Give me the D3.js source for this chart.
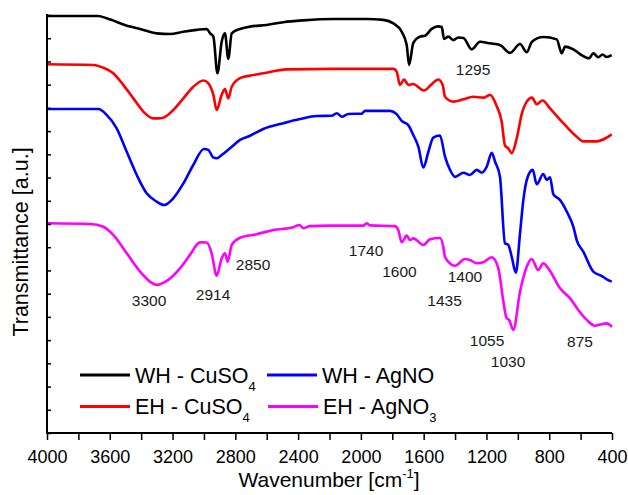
<!DOCTYPE html>
<html><head><meta charset="utf-8">
<script src="https://cdn.jsdelivr.net/npm/d3@7"></script>
<style>body{margin:0;background:#fff}svg{display:block}text{font-family:"Liberation Sans",Arial,sans-serif}</style>
</head><body>
<script>
// wavenumber [cm-1], transmittance [a.u., offset]
const whCuWn = [3998,3673,3620,3471,3407,3301,3216,3131,3046,2982,2961,2940,2914,2887,2866,2845,2823,2770,2707,2600,2494,2367,2176,1963,1857,1793,1740,1708,1693,1666,1623,1591,1549,1509,1485,1470,1443,1411,1379,1347,1294,1241,1177,1114,1050,986,943,910,838,752,720,699,646,604,546,519,487,460,434,402];
const whCuT  = [17.96,17.96,17.86,17.50,17.40,17.21,17.18,17.28,17.36,17.40,17.21,17.07,15.49,16.85,17.21,16.11,17.21,17.40,17.50,17.57,17.69,17.77,17.83,17.83,17.79,17.64,17.28,16.71,15.85,16.80,17.07,17.11,17.40,17.51,17.48,16.97,17.07,16.92,17.03,17.01,16.52,16.85,16.78,16.71,16.37,16.75,16.40,16.85,17.05,16.95,16.35,16.64,16.52,16.32,16.14,16.35,16.18,16.30,16.19,16.27];

const ehCuWn = [3998,3705,3641,3578,3514,3450,3386,3323,3293,3259,3195,3131,3068,3004,2972,2940,2919,2887,2866,2845,2823,2770,2707,2622,2473,2176,1793,1772,1751,1725,1698,1668,1598,1549,1507,1479,1464,1411,1347,1284,1220,1177,1135,1103,1082,1061,1039,1007,975,943,910,880,843,795,710,625,583,497,434,402];
const ehCuT  = [15.88,15.85,15.73,15.49,14.99,14.41,13.84,13.55,13.55,13.58,13.91,14.41,14.91,15.18,15.06,14.56,13.91,14.56,14.81,14.41,14.91,15.28,15.39,15.49,15.66,15.68,15.68,15.56,14.99,15.22,14.99,15.03,14.75,15.02,15.22,14.99,14.48,14.27,14.37,14.48,14.44,14.56,14.08,13.41,12.38,12.26,12.05,12.69,13.74,14.27,14.44,14.16,14.32,13.98,13.34,12.76,12.56,12.56,12.72,12.86];

const whAgWn = [3998,3673,3620,3556,3492,3428,3365,3301,3254,3195,3131,3068,3000,2972,2940,2917,2887,2834,2770,2707,2622,2494,2388,2281,2186,2154,2122,2080,1995,1974,1814,1772,1740,1698,1666,1634,1602,1570,1539,1496,1464,1432,1400,1347,1305,1262,1230,1198,1166,1145,1114,1082,1061,1039,1013,986,965,940,905,880,838,816,795,774,731,688,646,625,583,519,465,434,402];
const whAgT  = [13.95,13.95,13.70,13.12,12.11,11.11,10.32,9.96,9.82,10.11,10.75,11.54,12.23,12.19,11.86,11.83,11.97,12.26,12.62,12.80,13.09,13.34,13.52,13.65,13.66,13.77,13.62,13.74,13.75,13.87,13.87,13.73,13.44,13.26,12.83,12.33,11.43,12.11,12.72,12.81,11.90,11.33,11.03,11.21,11.11,11.33,11.21,11.47,12.07,11.68,11.04,8.17,8.10,7.59,6.90,8.60,10.03,10.97,11.33,10.71,11.15,10.90,11.01,10.29,10.03,9.53,8.88,8.31,7.81,6.95,6.76,6.62,6.52];

const ehAgWn = [3998,3726,3641,3578,3492,3407,3344,3301,3237,3153,3089,3025,2982,2951,2919,2887,2866,2849,2823,2770,2664,2558,2431,2392,2367,2324,2197,1985,1963,1942,1783,1762,1740,1708,1687,1666,1602,1560,1496,1475,1464,1400,1337,1305,1262,1220,1166,1124,1092,1071,1056,1029,986,943,912,870,838,806,731,667,615,561,508,476,434,400];
const ehAgT  = [9.03,9.00,8.88,8.53,7.74,6.95,6.52,6.38,6.55,7.09,7.67,8.21,8.20,7.74,6.77,7.52,7.74,7.38,8.10,8.41,8.56,8.74,8.86,8.96,8.82,8.91,8.93,8.93,9.03,8.94,8.91,8.74,8.21,8.50,8.31,8.38,8.10,8.34,8.40,8.02,7.57,7.20,7.49,7.45,7.31,7.35,7.57,7.09,5.65,4.94,4.87,4.44,6.09,7.16,7.49,7.02,7.31,7.09,6.23,5.80,5.30,4.87,4.62,4.67,4.72,4.57];

const seriesNames  = ["WH - CuSO", "WH - AgNO", "EH - CuSO", "EH - AgNO"];
const seriesSubs   = ["4", "", "4", "3"];
const seriesColors = ["#000000", "#0000ff", "#ff0000", "#ff00ff"];

const annText = ["1295","3300","2914","2850","1740","1600","1400","1435","1055","1030","875"];
const annWn   = [1285,3350,2942,2687,1967,1754,1337,1467,1196,1062,604];
const annT    = [15.42,5.47,5.73,7.02,7.62,6.72,6.50,5.47,3.75,2.84,3.70];

const xTicks = [4000,3800,3600,3400,3200,3000,2800,2600,2400,2200,2000,1800,1600,1400,1200,1000,800,600,400];

const W = 628, H = 495;
const svg = d3.select("body").append("svg").attr("width", W).attr("height", H);
const x = d3.scaleLinear().domain([4000, 400]).range([47, 612]);
const y = d3.scaleLinear().domain([0, 18]).range([433, 15]);

const lineGen = d3.line().x(d => x(d[0])).y(d => y(d[1])).curve(d3.curveMonotoneX);
const sets = [
  {wn: whCuWn, t: whCuT, c: "#000000"},
  {wn: ehCuWn, t: ehCuT, c: "#ff0000"},
  {wn: whAgWn, t: whAgT, c: "#0000ff"},
  {wn: ehAgWn, t: ehAgT, c: "#ff00ff"}
];
sets.forEach(s => {
  svg.append("path").datum(s.wn.map((w, i) => [w, s.t[i]]))
    .attr("d", lineGen).attr("fill", "none").attr("stroke", s.c)
    .attr("stroke-width", 2.6).attr("stroke-linejoin", "round");
});

// axes
const xAxis = d3.axisBottom(x).tickValues(xTicks).tickSize(7).tickPadding(10)
  .tickFormat(d => d % 400 === 0 ? d : "");
const gx = svg.append("g").attr("transform", "translate(0,433)").call(xAxis);
gx.select(".domain").attr("stroke-width", 2).attr("d", "M46,0H612");
gx.selectAll(".tick line").attr("stroke-width", 1.5);
gx.selectAll("text").attr("font-size", 18).attr("font-family", "Liberation Sans, Arial, sans-serif").attr("fill", "#000");

const yAxis = d3.axisLeft(y).ticks(18).tickSize(-4).tickFormat("");
const gy = svg.append("g").attr("transform", "translate(47,0)").call(yAxis);
gy.select(".domain").attr("stroke-width", 2).attr("d", "M0,14V434");
gy.selectAll(".tick line").attr("stroke-width", 1.5);

// annotations
annText.forEach((t, i) => {
  svg.append("text").attr("x", x(annWn[i])).attr("y", y(annT[i]))
    .attr("text-anchor", "middle").attr("font-size", 15.5).attr("fill", "#1a1a1a").text(t);
});

// legend
const legPos = [[80, 375], [267, 375], [80, 406.5], [268, 406.5]];
seriesNames.forEach((n, i) => {
  const [lx, ly] = legPos[i];
  svg.append("line").attr("x1", lx).attr("x2", lx + 50).attr("y1", ly).attr("y2", ly)
    .attr("stroke", seriesColors[i]).attr("stroke-width", 3);
  const t = svg.append("text").attr("x", lx + 55).attr("y", ly + 7.5).attr("font-size", 21.5).attr("fill", "#000");
  t.append("tspan").text(n);
  if (seriesSubs[i]) t.append("tspan").attr("font-size", 13).attr("dy", 8).text(seriesSubs[i]);
});

// axis titles
const xt = svg.append("text").attr("x", 329).attr("y", 487).attr("text-anchor", "middle").attr("font-size", 21).attr("fill", "#000");
xt.append("tspan").text("Wavenumber [cm");
xt.append("tspan").attr("font-size", 13).attr("dy", -9).text("-1");
xt.append("tspan").attr("dy", 9).text("]");

svg.append("text").attr("transform", "translate(28,242) rotate(-90)").attr("text-anchor", "middle")
  .attr("font-size", 21.5).attr("fill", "#000").text("Transmittance [a.u.]");
</script>
</body></html>
